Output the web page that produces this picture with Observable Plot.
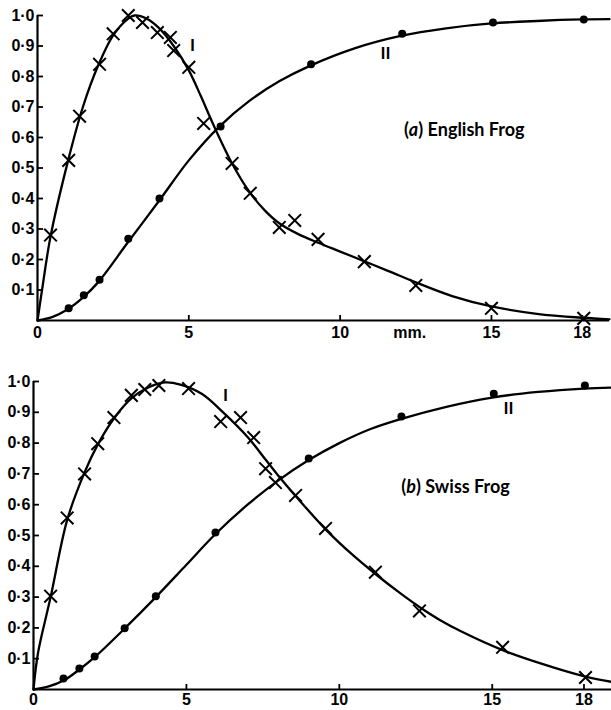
<!DOCTYPE html>
<html>
<head>
<meta charset="utf-8">
<script src="https://cdn.jsdelivr.net/npm/d3@7"></script>
<script src="https://cdn.jsdelivr.net/npm/@observablehq/plot@0.6"></script>
<style>
  html, body { margin: 0; padding: 0; background: white; }
  #chart { width: 611px; }
  #chart svg { display: block; }
</style>
</head>
<body>
<div id="chart"></div>
<script>
// ---------- data ----------
const xTicks = [0, 5, 10, 15, 18];
const yTicks = [0.1, 0.2, 0.3, 0.4, 0.5, 0.6, 0.7, 0.8, 0.9, 1.0];

// (a) English Frog
const englishIx = [0.43, 1.03, 1.39, 2.05, 2.5, 3.0, 3.47, 3.96, 4.39, 4.5, 5.0, 5.49, 6.43, 7.03, 7.99, 8.5, 9.27, 10.8, 12.5, 15.0, 18.05];
const englishIy = [0.28, 0.525, 0.67, 0.84, 0.94, 1.0, 0.977, 0.944, 0.928, 0.885, 0.83, 0.646, 0.515, 0.417, 0.305, 0.328, 0.266, 0.193, 0.115, 0.04, 0.007];
const englishIIx = [1.03, 1.53, 2.05, 3.0, 4.03, 6.05, 9.04, 12.05, 15.05, 18.05];
const englishIIy = [0.04, 0.083, 0.134, 0.268, 0.40, 0.636, 0.84, 0.94, 0.977, 0.987];
const englishCurveIx = [0, 0.15, 0.43, 1.0, 1.5, 2.0, 2.5, 3.0, 3.2, 3.6, 4.0, 4.5, 5.0, 5.4, 5.82, 6.43, 7.0, 7.5, 8.0, 8.6, 9.3, 10.0, 10.8, 11.6, 12.5, 13.7, 15.0, 16.5, 18.0, 18.9];
const englishCurveIy = [0, 0.1, 0.275, 0.52, 0.7, 0.835, 0.935, 0.99, 1.0, 0.99, 0.96, 0.9, 0.82, 0.735, 0.64, 0.515, 0.422, 0.362, 0.318, 0.284, 0.254, 0.226, 0.194, 0.162, 0.125, 0.08, 0.046, 0.022, 0.009, 0.004];
const englishCurveIIx = [0, 0.5, 1.0, 1.5, 2.0, 3.0, 4.0, 5.0, 6.0, 7.0, 8.0, 9.0, 10.5, 12.0, 13.5, 15.0, 16.5, 18.0, 18.9];
const englishCurveIIy = [0, 0.012, 0.037, 0.075, 0.125, 0.258, 0.39, 0.525, 0.635, 0.72, 0.785, 0.835, 0.893, 0.933, 0.958, 0.974, 0.982, 0.987, 0.988];

// (b) Swiss Frog
const swissIx = [0.56, 1.1, 1.67, 2.1, 2.63, 3.2, 3.64, 4.1, 5.07, 6.12, 6.77, 7.2, 7.59, 7.91, 8.57, 9.55, 11.18, 12.62, 15.34, 18.05];
const swissIy = [0.303, 0.557, 0.70, 0.798, 0.883, 0.955, 0.974, 0.987, 0.977, 0.87, 0.883, 0.818, 0.717, 0.672, 0.63, 0.523, 0.381, 0.255, 0.137, 0.039];
const swissIIx = [0.98, 1.5, 2.0, 2.98, 4.0, 5.95, 9.0, 12.03, 15.05, 18.03];
const swissIIy = [0.036, 0.068, 0.107, 0.199, 0.303, 0.51, 0.75, 0.886, 0.96, 0.987];
const swissCurveIx = [0, 0.15, 0.56, 1.1, 1.67, 2.1, 2.63, 3.2, 3.7, 4.3, 4.8, 5.5, 6.2, 7.0, 7.6, 8.0, 8.6, 9.6, 10.4, 11.18, 12.0, 12.62, 13.3, 13.96, 15.34, 16.58, 18.05, 18.9];
const swissCurveIy = [0, 0.12, 0.3, 0.55, 0.705, 0.795, 0.88, 0.945, 0.978, 0.997, 0.99, 0.96, 0.9, 0.82, 0.745, 0.695, 0.625, 0.515, 0.44, 0.375, 0.312, 0.268, 0.225, 0.19, 0.128, 0.085, 0.042, 0.025];
const swissCurveIIx = [0, 0.5, 1.0, 1.5, 2.0, 3.0, 4.0, 5.0, 5.95, 7.0, 8.01, 9.0, 10.0, 11.0, 12.0, 13.5, 15.0, 16.5, 18.0, 18.9];
const swissCurveIIy = [0, 0.01, 0.03, 0.065, 0.105, 0.2, 0.3, 0.405, 0.505, 0.6, 0.679, 0.745, 0.8, 0.845, 0.878, 0.918, 0.948, 0.966, 0.977, 0.98];

const zip = (xs, ys) => xs.map((x, i) => ({x, y: ys[i]}));
const fmtY = d => d.toFixed(1).replace(".", "\u00B7");

function panel({height, marginTop, marginBottom, marginLeft, marginRight, ptsI, ptsII, curveI, curveII, labelI, labelII, title, tickPad, mm}) {
  const marks = [
    Plot.ruleY([0], {strokeWidth: 2.2}),
    Plot.ruleX([0], {y1: 0, y2: 1, strokeWidth: 2.2}),
    Plot.axisY({ticks: yTicks, tickSize: 6, dx: 6, fill: "none", strokeWidth: 1.8, label: null}),
    Plot.axisY({ticks: yTicks, tickSize: 0, tickPadding: 3, tickFormat: fmtY, stroke: "none", label: null}),
    Plot.axisX({ticks: xTicks.filter(d => d > 0), tickSize: 5, dy: -5, fill: "none", strokeWidth: 1.8, label: null}),
    Plot.axisX({ticks: xTicks, tickSize: 0, tickPadding: tickPad, stroke: "none", label: null}),
    Plot.line(zip(curveI[0], curveI[1]), {x: "x", y: "y", curve: "catmull-rom", strokeWidth: 2.3}),
    Plot.line(zip(curveII[0], curveII[1]), {x: "x", y: "y", curve: "catmull-rom", strokeWidth: 2.3}),
    Plot.dot(zip(ptsI[0], ptsI[1]), {x: "x", y: "y", symbol: "times", r: 5.8, stroke: "black", strokeWidth: 2}),
    Plot.dot(zip(ptsII[0], ptsII[1]), {x: "x", y: "y", r: 4, fill: "black"}),
    Plot.text([{x: labelI[0], y: labelI[1], t: "I"}, {x: labelII[0], y: labelII[1], t: "II"}],
      {x: "x", y: "y", text: "t", fontSize: 17, fontWeight: "bold", fontFamily: "Lato"}),
    Plot.text([{x: title[0], y: title[1], t: title[2]}],
      {x: "x", y: "y", text: "t", fontSize: 18, fontWeight: "bold", fontFamily: "Lato"})
  ];
  if (mm) marks.push(Plot.text([{x: mm, y: 0, t: "mm."}], {x: "x", y: "y", text: "t", lineAnchor: "top", dy: tickPad}));
  return Plot.plot({
    width: 611, height, marginTop, marginBottom, marginLeft, marginRight,
    style: {fontFamily: "Liberation Sans", fontSize: "16px", fontWeight: "bold", color: "black", background: "white"},
    x: {domain: [0, 18.9]},
    y: {domain: [0, 1.0]},
    marks
  });
}

const topPanel = panel({
  height: 350, marginTop: 15, marginBottom: 30, marginLeft: 37, marginRight: 2,
  ptsI: [englishIx, englishIy], ptsII: [englishIIx, englishIIy],
  curveI: [englishCurveIx, englishCurveIy], curveII: [englishCurveIIx, englishCurveIIy],
  labelI: [5.12, 0.9], labelII: [11.5, 0.875], title: [14.1, 0.623, "(a) English Frog"],
  tickPad: 6, mm: 12.3
});
const bottomPanel = panel({
  height: 360, marginTop: 31, marginBottom: 21, marginLeft: 33, marginRight: 0,
  ptsI: [swissIx, swissIy], ptsII: [swissIIx, swissIIy],
  curveI: [swissCurveIx, swissCurveIy], curveII: [swissCurveIIx, swissCurveIIy],
  labelI: [6.28, 0.954], labelII: [15.53, 0.912], title: [13.8, 0.658, "(b) Swiss Frog"],
  tickPad: 4
});

const chart = document.getElementById("chart");
chart.appendChild(topPanel);
chart.appendChild(bottomPanel);

// italicise the panel letter in the titles
const NS = "http://www.w3.org/2000/svg";
chart.querySelectorAll("text").forEach(el => {
  const m = /^\((\w)\)(.*)$/.exec(el.textContent);
  if (!m || el.children.length) return;
  el.textContent = "";
  el.appendChild(document.createTextNode("("));
  const ts = document.createElementNS(NS, "tspan");
  ts.setAttribute("font-style", "italic");
  ts.textContent = m[1];
  el.appendChild(ts);
  el.appendChild(document.createTextNode(")" + m[2]));
});
</script>
</body>
</html>
